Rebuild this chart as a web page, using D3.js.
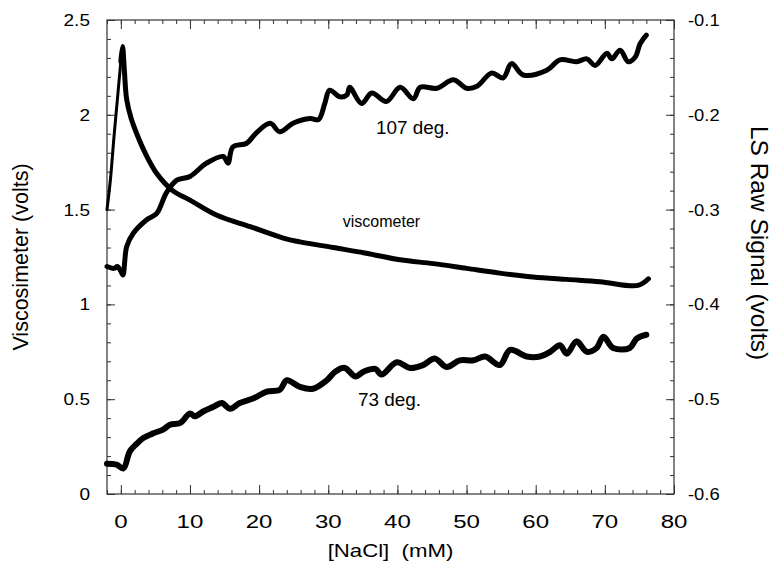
<!DOCTYPE html>
<html>
<head>
<meta charset="utf-8">
<script src="https://cdn.jsdelivr.net/npm/d3@7"></script>
<style>
  body { margin: 0; background: #fff; }
  svg { display: block; }
  text { font-family: "Liberation Sans", Arial, sans-serif; fill: #000; white-space: pre; }
  .tick line { stroke: #333; }
</style>
</head>
<body>
<script>
// viscometer trace, left axis (volts)
var viscX = [-2, -1.5, -1, -0.5, 0, 0.25, 0.5, 0.85, 1.5, 2.3, 3.5, 5.2, 7.5, 10, 13.9, 18.7, 23.5, 25.9,
             30.7, 35.5, 40.4, 45.2, 50, 54.8, 59.6, 64.5, 69.3, 74.8, 76.3];
var viscY = [1.50, 1.66, 1.88, 2.08, 2.28, 2.36, 2.24, 2.08, 1.98, 1.90, 1.80, 1.69, 1.60, 1.55, 1.47, 1.41, 1.35, 1.33,
             1.30, 1.27, 1.235, 1.215, 1.19, 1.165, 1.145, 1.132, 1.12, 1.10, 1.135];

// light scattering 107 deg, right axis (volts)
var ls107X = [-2, -1, -0.5, 0, 0.3, 0.85, 1.8, 3.7, 5.2, 6.6, 8.1, 10, 12.4, 14.8, 15.5, 16.2, 18.2, 19.6, 21.6, 23,
              24.9, 27.4, 28.6, 29.5, 30.2, 31.7, 32.7, 33.1, 34.8, 36.3, 38.4, 40.4, 42.3, 43.3, 45.7, 48.1, 50,
              51.5, 53.6, 55.3, 56.5, 58.2, 61.6, 63.5, 65.9, 67.4, 68.6, 70.3, 71, 72.2, 73.4, 74.4, 75.1, 76];
var ls107Y = [-0.360, -0.362, -0.360, -0.365, -0.369, -0.339, -0.325, -0.311, -0.304, -0.282, -0.269, -0.265, -0.251,
              -0.244, -0.251, -0.234, -0.230, -0.219, -0.209, -0.218, -0.209, -0.204, -0.205, -0.188, -0.174, -0.181,
              -0.179, -0.171, -0.188, -0.177, -0.186, -0.171, -0.183, -0.171, -0.172, -0.163, -0.172, -0.170, -0.156,
              -0.161, -0.146, -0.158, -0.153, -0.142, -0.144, -0.141, -0.148, -0.135, -0.141, -0.132, -0.144, -0.139,
              -0.125, -0.116];

// light scattering 73 deg, right axis (volts)
var ls73X = [-2, -0.6, 0.36, 1.3, 2.3, 3.25, 4.7, 6.1, 7.1, 8.6, 10, 10.7, 11.9, 13.4, 14.6, 15.8, 17.2, 19.2, 21.1, 23,
             24, 25.9, 27.8, 29.8, 31, 32.4, 33.9, 35.1, 36.8, 37.7, 39.9, 41.8, 43.7, 45.4, 47.1, 49, 51, 52.7, 54.8,
             56.3, 58.7, 60.6, 62.1, 63.5, 64.5, 65.9, 67.4, 68.8, 69.8, 71.2, 73.6, 74.6, 76];
var ls73Y = [-0.568, -0.569, -0.573, -0.555, -0.547, -0.541, -0.536, -0.532, -0.527, -0.525, -0.515, -0.518, -0.513,
             -0.508, -0.504, -0.510, -0.504, -0.499, -0.492, -0.490, -0.480, -0.487, -0.489, -0.480, -0.471, -0.467,
             -0.476, -0.471, -0.468, -0.474, -0.461, -0.467, -0.464, -0.457, -0.466, -0.459, -0.459, -0.455, -0.464,
             -0.448, -0.455, -0.455, -0.450, -0.443, -0.452, -0.439, -0.450, -0.446, -0.434, -0.446, -0.446, -0.436,
             -0.432];

var xTicks = [0, 10, 20, 30, 40, 50, 60, 70, 80];
var leftTicks = [0, 0.5, 1, 1.5, 2, 2.5];
var rightTicks = [-0.6, -0.5, -0.4, -0.3, -0.2, -0.1];
var labels = [{text: "107 deg.", x: 36.9, y: -0.220}, {text: "viscometer", x: 32.1, y: 1.41}, {text: "73 deg.", x: 34.3, y: -0.507}];

var W = 772, H = 567;
var margin = {left: 107, right: 98, top: 20, bottom: 73};

var svg = d3.select("body").append("svg").attr("width", W).attr("height", H);

var xScale = d3.scaleLinear().domain([-2, 80]).range([margin.left, W - margin.right]);
var yLeft = d3.scaleLinear().domain([0, 2.5]).range([H - margin.bottom, margin.top]);
var yRight = d3.scaleLinear().domain([-0.6, -0.1]).range([H - margin.bottom, margin.top]);

var x0 = margin.left, x1 = W - margin.right, y0 = margin.top, y1 = H - margin.bottom;

// text helper, the scanned figure is a little wider than normal type
function addText(x, y, str, size, anchor, sx, rot){
    var t = svg.append("text")
        .attr("transform", "translate(" + x + "," + y + ")" + (rot ? " rotate(" + rot + ")" : "") + " scale(" + sx + ",1)")
        .attr("text-anchor", anchor)
        .style("font-size", size + "px")
        .text(str);
    return t;
}

function ticksOnly(axis, g){
    g.call(axis);
    g.select(".domain").remove();
    g.selectAll("text").remove();
    g.selectAll("line").attr("stroke", "#333").attr("stroke-width", 1);
}

var minorX = d3.range(-2, 80.1, 2);
// bottom and top x ticks, pointing inward
ticksOnly(d3.axisTop(xScale).tickValues(minorX).tickSize(4), svg.append("g").attr("transform", "translate(0," + y1 + ")"));
ticksOnly(d3.axisTop(xScale).tickValues(xTicks).tickSize(9), svg.append("g").attr("transform", "translate(0," + y1 + ")"));
ticksOnly(d3.axisBottom(xScale).tickValues(minorX).tickSize(4), svg.append("g").attr("transform", "translate(0," + y0 + ")"));
ticksOnly(d3.axisBottom(xScale).tickValues(xTicks).tickSize(9), svg.append("g").attr("transform", "translate(0," + y0 + ")"));

// left and right y ticks
ticksOnly(d3.axisRight(yLeft).tickValues(d3.range(0, 2.51, 0.1)).tickSize(4), svg.append("g").attr("transform", "translate(" + x0 + ",0)"));
ticksOnly(d3.axisRight(yLeft).tickValues(leftTicks).tickSize(8), svg.append("g").attr("transform", "translate(" + x0 + ",0)"));
ticksOnly(d3.axisLeft(yRight).tickValues(d3.range(-0.6, -0.099, 0.02)).tickSize(4), svg.append("g").attr("transform", "translate(" + x1 + ",0)"));
ticksOnly(d3.axisLeft(yRight).tickValues(rightTicks).tickSize(8), svg.append("g").attr("transform", "translate(" + x1 + ",0)"));

svg.append("rect")
    .attr("x", x0).attr("y", y0)
    .attr("width", x1 - x0).attr("height", y1 - y0)
    .attr("fill", "none").attr("stroke", "#333").attr("stroke-width", 1.2);

// tick labels
xTicks.forEach(function(d){ addText(xScale(d), y1 + 34, d, 18.5, "middle", 1.3); });
leftTicks.forEach(function(d){ addText(x0 - 17, yLeft(d) + 6, d, 17, "end", 1.12); });
rightTicks.forEach(function(d){ addText(x1 + 14, yRight(d) + 6, d, 17, "start", 1.08); });

// axis titles
addText((x0 + x1) / 2, 557, "[NaCl]  (mM)", 18.5, "middle", 1.2);
addText(28, 257, "Viscosimeter (volts)", 21.5, "middle", 1, -90);
addText(751, 243, "LS Raw Signal (volts)", 24.5, "middle", 1, 90);

// traces
function drawTrace(pts, yScale, width){
    var line = d3.line()
        .x(function(d){ return xScale(d[0]); })
        .y(function(d){ return yScale(d[1]); })
        .curve(d3.curveCatmullRom.alpha(0.5));
    svg.append("path")
        .datum(pts)
        .attr("d", line)
        .attr("fill", "none")
        .attr("stroke", "#000")
        .attr("stroke-width", width)
        .attr("stroke-linejoin", "round")
        .attr("stroke-linecap", "round");
}

function pairs(xs, ys){
    return xs.map(function(d, i){ return [d, ys[i]]; });
}

var viscPts = pairs(viscX, viscY);
// the fast rise before the peak is drawn with open markers, so it looks thinner
drawTrace(viscPts.filter(function(d){ return d[0] <= 0.25; }), yLeft, 3);
drawTrace(viscPts.filter(function(d){ return d[0] >= 0; }), yLeft, 5);
drawTrace(pairs(ls107X, ls107Y), yRight, 5);
drawTrace(pairs(ls73X, ls73Y), yRight, 6);

// curve labels
addText(xScale(labels[0].x), yRight(labels[0].y), labels[0].text, 18, "start", 1.05);
addText(xScale(labels[1].x), yLeft(labels[1].y), labels[1].text, 16, "start", 1.0);
addText(xScale(labels[2].x), yRight(labels[2].y), labels[2].text, 18, "start", 1.05);
</script>
</body>
</html>
